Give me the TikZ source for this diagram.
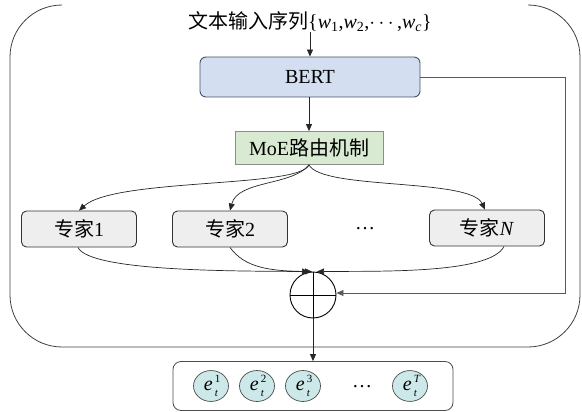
\documentclass[tikz,border=0pt]{standalone}
\usepackage{fontspec}
\usepackage{amsmath}
\setmainfont{Liberation Serif}
\newfontfamily\cjk{Noto Sans CJK SC}
\usetikzlibrary{arrows.meta,shapes.geometric}
\definecolor{bertfill}{HTML}{D3DFF1}
\definecolor{bertline}{HTML}{44546A}
\definecolor{moefill}{HTML}{D9EAD3}
\definecolor{moeline}{HTML}{8C8C8C}
\definecolor{expfill}{HTML}{EEEEEE}
\definecolor{tokfill}{HTML}{CCE8E8}
\newcommand\itv[1]{\textit{#1}}
% token label: italic e with a stacked superscript and subscript t
\newcommand\tokl[1]{\itv{e}\kern2pt\rlap{\raisebox{8.5pt}{\fontsize{11}{11}\selectfont #1}}\raisebox{-6pt}{\fontsize{11}{11}\selectfont\itv{t}}\hspace{2pt}}
\begin{document}
\begin{tikzpicture}[x=1pt,y=-1pt,
  every node/.style={font=\fontsize{20}{23}\selectfont, inner sep=0pt},
  tip/.style={-{Triangle[length=7pt,width=6pt]}},
  bertbox/.style={draw=bertline, fill=bertfill, rounded corners=6pt, line width=0.9pt,
    minimum width=220pt, minimum height=40pt},
  moebox/.style={draw=moeline, fill=moefill, line width=0.8pt,
    minimum width=148pt, minimum height=33pt},
  expbox/.style={draw=black!80, fill=expfill, rounded corners=5pt, line width=0.9pt,
    minimum width=115pt, minimum height=36pt},
  tok/.style={draw=black!70, fill=tokfill, ellipse, line width=0.7pt,
    minimum width=35pt, minimum height=29pt},
  link/.style={draw=black!85, line width=0.7pt}]
\useasboundingbox (0,0) rectangle (582,412);

% outer frame, open along the top edge
\draw[black!75, line width=0.8pt, rounded corners=52pt]
  (62,5) -- (10,5) -- (10,347) -- (580,347) -- (580,5) -- (528,5);

% input text
\node (title) at (310,22) {{\cjk 文本输入序列}\{\itv{w}\textsubscript{1},\itv{w}\textsubscript{2},{$\cdots$},\itv{w}\textsubscript{\itv{c}}\}};

% encoder and router
\node[bertbox] (bert) at (310,77) {BERT};
\node[moebox] (moe) at (309,148) {MoE{\cjk 路由机制}};

% experts
\node[expbox] (e1) at (79,229) {{\cjk 专家}1};
\node[expbox] (e2) at (230,229) {{\cjk 专家}2};
\node (edots) at (365,229) {…};
\node[expbox] (eN) at (487,228) {{\cjk 专家}\itv{N}};

% summation node
\node[draw, circle, line width=0.9pt, minimum size=46pt] (sum) at (313,295) {};
\draw[line width=0.9pt] (sum.west) -- (sum.east);
\draw[line width=0.9pt] (sum.north) -- (sum.south);

% output token box
\node[draw=black!70, rounded corners=8pt, line width=0.8pt,
  minimum width=280pt, minimum height=49pt] (out) at (313,386) {};
\node[tok] (t1) at (211,386) {\tokl{1}};
\node[tok] (t2) at (257,386) {\tokl{2}};
\node[tok] (t3) at (303,386) {\tokl{3}};
\node (tdots) at (362,387) {…};
\node[tok] (tT) at (410,386) {\tokl{\itv{T}}};

% connectors
\coordinate (moeb) at (moe.south);
\draw[link, tip] (title.south -| bert.north) -- (bert.north);
\draw[link, tip] (bert.south -| moe.north) -- (moe.north);
\draw[link, tip] (moeb) .. controls (300,188) and (115,178) .. (e1.north);
\draw[link, tip] (moeb) .. controls (292,186) and (238,180) .. (e2.north);
\draw[link, tip] (moeb) .. controls (322,190) and (470,178) .. ([xshift=-2pt]eN.north);

\coordinate (sumtopl) at ([xshift=-4pt]sum.north);
\coordinate (sumtopm) at ([xshift=-1pt]sum.north);
\coordinate (sumtopr) at ([xshift=4pt]sum.north);
\draw[link, tip] ([xshift=-1pt]e1.south) .. controls (90,272) and (240,271) .. (sumtopl);
\draw[link, tip] (e2.south) .. controls (245,268) and (270,271) .. (sumtopm);
\draw[link, tip] ([xshift=17pt]eN.south) .. controls (490,274) and (380,271) .. (sumtopr);

\draw[black!65, line width=0.8pt, tip] (bert.east) -- (565,77) -- (565,293) -- (sum.east |- 0,293);
\draw[link, tip] (sum.south) -- (out.north);
\end{tikzpicture}
\end{document}
